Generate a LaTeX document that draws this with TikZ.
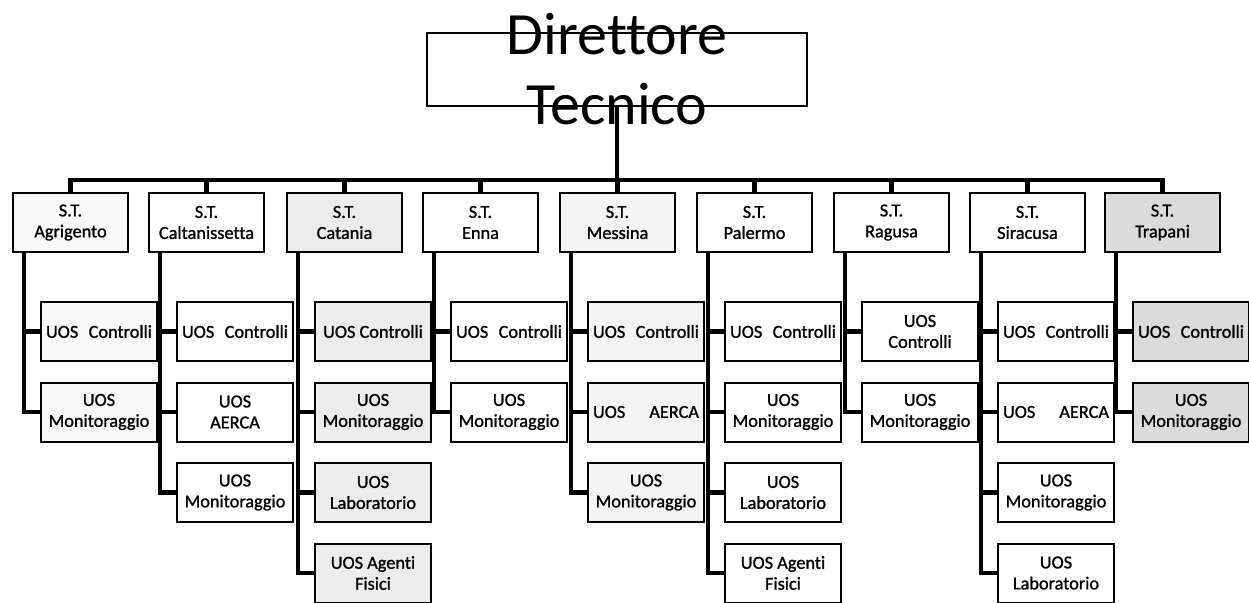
\documentclass[tikz,border=0pt]{standalone}
\usepackage{fontspec}
\setmainfont{Carlito}[Ligatures=NoCommon]
\newfontfamily\boxfam{Carlito}[FakeBold=1.2,Ligatures=NoCommon]
\newcommand\boxfnt{\boxfam\fontsize{18.3}{21}\selectfont}
\newcommand\jus[2]{\hbox to 106pt{#1\hfill #2}}
\begin{document}
\begin{tikzpicture}[x=1pt,y=-1pt,line join=miter,
  stbox/.style={draw,line width=2pt,minimum width=115pt,minimum height=59pt,
    anchor=north west,align=center,font=\boxfnt,inner sep=1pt,text=black},
  uosbox/.style={stbox,minimum width=116pt},
  conn/.style={line width=4.8pt},
  dirbox/.style={draw,line width=1.4pt,minimum width=380pt,minimum height=73pt},
  dirtext/.style={font=\fontsize{60}{70}\selectfont,align=center,inner sep=0pt}]
\useasboundingbox (0,0) rectangle (1249,602);
% column helpers: #1 id, #2 left x, #3 fill, #4 text
\newcommand\stcol[4]{%
  \node[stbox,fill=#3] (s#1) at (#2,192) {#4};
  \coordinate (t#1) at ([xshift=12pt]s#1.south west);}
% #1 id, #2 row, #3 left x of column, #4 fill, #5 text
\newcommand\uos[5]{%
  \node[uosbox,fill=#4] (u#1#2) at ({#3+28},{220.5+80.5*#2}) {#5};}
\newcommand\branchmid[2]{\draw[conn] (t#1 |- u#1#2.west) -- (u#1#2.west);}
\newcommand\branchlast[2]{\draw[conn] (t#1) |- (u#1#2.west);}

% director
\node[dirbox] (dir) at (617,69.5) {};
\node[dirtext] (dirt) at (617,69) {Direttore\\Tecnico};
\coordinate (bus) at (0,180);

% Agrigento
\stcol{A}{12}{gray!5}{S.T.\\Agrigento}
\uos{A}{1}{12}{gray!5}{\jus{UOS}{Controlli}}
\uos{A}{2}{12}{gray!5}{UOS\\Monitoraggio}
% Caltanissetta
\stcol{B}{148}{white}{S.T.\\Caltanissetta}
\uos{B}{1}{148}{white}{\jus{UOS}{Controlli}}
\uos{B}{2}{148}{white}{UOS\\AERCA}
\uos{B}{3}{148}{white}{UOS\\Monitoraggio}
% Catania
\stcol{C}{286}{gray!15}{S.T.\\Catania}
\uos{C}{1}{286}{gray!15}{UOS Controlli}
\uos{C}{2}{286}{gray!15}{UOS\\Monitoraggio}
\uos{C}{3}{286}{gray!15}{UOS\\Laboratorio}
\uos{C}{4}{286}{gray!15}{UOS Agenti\\Fisici}
% Enna
\stcol{D}{422}{white}{S.T.\\Enna}
\uos{D}{1}{422}{white}{\jus{UOS}{Controlli}}
\uos{D}{2}{422}{white}{UOS\\Monitoraggio}
% Messina
\stcol{E}{559}{gray!9}{S.T.\\Messina}
\uos{E}{1}{559}{gray!9}{\jus{UOS}{Controlli}}
\uos{E}{2}{559}{gray!9}{\jus{UOS}{AERCA}}
\uos{E}{3}{559}{gray!9}{UOS\\Monitoraggio}
% Palermo
\stcol{F}{696}{white}{S.T.\\Palermo}
\uos{F}{1}{696}{white}{\jus{UOS}{Controlli}}
\uos{F}{2}{696}{white}{UOS\\Monitoraggio}
\uos{F}{3}{696}{white}{UOS\\Laboratorio}
\uos{F}{4}{696}{white}{UOS Agenti\\Fisici}
% Ragusa
\stcol{G}{833}{white}{S.T.\\Ragusa}
\uos{G}{1}{833}{white}{UOS\\Controlli}
\uos{G}{2}{833}{white}{UOS\\Monitoraggio}
% Siracusa
\stcol{H}{969}{white}{S.T.\\Siracusa}
\uos{H}{1}{969}{white}{\jus{UOS}{Controlli}}
\uos{H}{2}{969}{white}{\jus{UOS}{AERCA}}
\uos{H}{3}{969}{white}{UOS\\Monitoraggio}
\uos{H}{4}{969}{white}{UOS\\Laboratorio}
% Trapani
\stcol{I}{1104}{gray!28}{S.T.\\Trapani}
\uos{I}{1}{1104}{gray!28}{\jus{UOS}{Controlli}}
\uos{I}{2}{1104}{gray!28}{UOS\\Monitoraggio}

% connectors
\draw[conn] (dir.south) -- (dir.south |- bus);
\draw[conn] (sA.north) -- (sA.north |- bus) -- (sI.north |- bus) -- (sI.north);
\foreach \c in {B,C,D,E,F,G,H}{\draw[conn] (s\c.north) -- (s\c.north |- bus);}
\branchmid{A}{1}\branchlast{A}{2}
\branchmid{B}{1}\branchmid{B}{2}\branchlast{B}{3}
\branchmid{C}{1}\branchmid{C}{2}\branchmid{C}{3}\branchlast{C}{4}
\branchmid{D}{1}\branchlast{D}{2}
\branchmid{E}{1}\branchmid{E}{2}\branchlast{E}{3}
\branchmid{F}{1}\branchmid{F}{2}\branchmid{F}{3}\branchlast{F}{4}
\branchmid{G}{1}\branchlast{G}{2}
\branchmid{H}{1}\branchmid{H}{2}\branchmid{H}{3}\branchlast{H}{4}
\branchmid{I}{1}\branchlast{I}{2}
\end{tikzpicture}
\end{document}
